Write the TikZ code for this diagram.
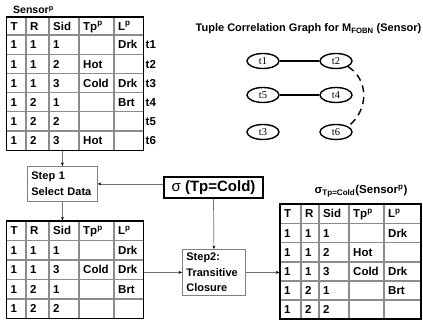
\documentclass[tikz,border=0pt]{standalone}
\usepackage{fontspec}
\setmainfont{Liberation Sans}
\newfontfamily\seriffont{Liberation Serif}
\usetikzlibrary{arrows.meta,fit,shapes.geometric}
\newcommand\sps{\textsuperscript{p}}
\newcommand\tcell[3]{\if\relax\detokenize{#3}\relax\else\node[cell] (#1) at #2 {#3};\fi}
\newcommand\trow[7]{\tcell{#1a}{(\xa,#2)}{#3}\tcell{#1b}{(\xb,#2)}{#4}\tcell{#1c}{(\xc,#2)}{#5}\tcell{#1d}{(\xd,#2)}{#6}\tcell{#1e}{(\xe,#2)}{#7}}
\newcommand\setcols[5]{\def\xa{#1}\def\xb{#2}\def\xc{#3}\def\xd{#4}\def\xe{#5}}
\begin{document}
\begin{tikzpicture}[x=1pt,y=-1pt,
  lbl/.style={font=\bfseries\fontsize{11.5}{13}\selectfont, inner sep=0},
  cell/.style={lbl, anchor=base west},
  gridline/.style={draw=black!45, line width=1.3pt},
  frame/.style={draw=black, line width=1.2pt, inner sep=0},
  stepbox/.style={draw=black!50, line width=0.8pt, align=left, font=\bfseries\fontsize{11}{15.5}\selectfont, inner xsep=4pt, inner ysep=0pt, anchor=north west},
  flow/.style={draw=black!55, line width=0.7pt, -{Stealth[length=3.5pt,width=3pt,black]}},
  tup/.style={ellipse, draw, line width=1.4pt, minimum width=32pt, minimum height=15pt, inner sep=0, font=\seriffont\fontsize{10.5}{12}\selectfont},
  link/.style={line width=1.4pt},
]
\useasboundingbox (0,0) rectangle (423,328);

% ---------- Table A (Sensor^p) ----------
\node[lbl, font=\bfseries\fontsize{10.5}{12}\selectfont, anchor=base west] (titleA) at (13,14) {Sensor\sps};
\foreach \x in {26,49,79,114} \draw[gridline] (\x,17) -- (\x,150.5);
\foreach \y in {35,54.5,73.5,92.5,111.5,131} \draw[gridline] (6.5,\y) -- (143.5,\y);
\node[frame, fit={(6.5,17) (143.5,150.5)}] (tabA) {};
\setcols{10.5}{30}{53}{83}{118}
\trow{Ah}{30.1}{T}{R}{Sid}{Tp\sps}{L\sps}
\trow{A1}{48.85}{1}{1}{1}{}{Drk}
\trow{A2}{68.1}{1}{1}{2}{Hot}{}
\trow{A3}{87.1}{1}{1}{3}{Cold}{Drk}
\trow{A4}{106.1}{1}{2}{1}{}{Brt}
\trow{A5}{125.35}{1}{2}{2}{}{}
\trow{A6}{144.85}{1}{2}{3}{Hot}{}
\node[cell] (rl1) at (145.5,48.85) {t1};
\node[cell] (rl2) at (145.5,68.1) {t2};
\node[cell] (rl3) at (145.5,87.1) {t3};
\node[cell] (rl4) at (145.5,106.1) {t4};
\node[cell] (rl5) at (145.5,125.35) {t5};
\node[cell] (rl6) at (145.5,144.85) {t6};

% ---------- Table B ----------
\foreach \x in {26,49,79,114} \draw[gridline] (\x,221) -- (\x,318.5);
\foreach \y in {240.5,260,279.5,299} \draw[gridline] (6.5,\y) -- (143.5,\y);
\node[frame, fit={(6.5,221) (143.5,318.5)}] (tabB) {};
\trow{Bh}{234.85}{T}{R}{Sid}{Tp\sps}{L\sps}
\trow{B1}{254.35}{1}{1}{1}{}{Drk}
\trow{B2}{273.85}{1}{1}{3}{Cold}{Drk}
\trow{B3}{293.35}{1}{2}{1}{}{Brt}
\trow{B4}{312.85}{1}{2}{2}{}{}

% ---------- Table C ----------
\node[lbl, anchor=base] (titleC) at (361,194) {σ\textsubscript{Tp=Cold}(Sensor\sps)};
\foreach \x in {301,319,349,384} \draw[gridline] (\x,204) -- (\x,319);
\foreach \y in {223.5,242.5,262,281,300} \draw[gridline] (280,\y) -- (421,\y);
\node[frame, fit={(280,204) (421,319)}] (tabC) {};
\setcols{284}{305}{323}{353}{388}
\trow{Ch}{217.85}{T}{R}{Sid}{Tp\sps}{L\sps}
\trow{C1}{237.1}{1}{1}{1}{}{Drk}
\trow{C2}{256.35}{1}{1}{2}{Hot}{}
\trow{C3}{275.6}{1}{1}{3}{Cold}{Drk}
\trow{C4}{294.6}{1}{2}{1}{}{Brt}
\trow{C5}{313.6}{1}{2}{2}{}{}

% ---------- Steps ----------
\node[stepbox, text width=62pt, minimum height=35pt] (step1) at (27,166) {Step 1\\Select Data};
\node[stepbox, text width=55pt, minimum height=46pt] (step2) at (182,249) {Step2:\\Transitive\\Closure};
\node[draw, line width=1.5pt, minimum width=99pt, minimum height=21pt, inner sep=0,
      font=\bfseries\fontsize{15}{17}\selectfont] (sig) at (213.5,187.5) {{\mdseries σ} (Tp=Cold)};

\draw[flow] (step1.north |- tabA.south) -- (step1.north);
\draw[flow] (step1.south) -- (step1.south |- tabB.north);
\draw[flow] (sig.west |- step1.east) -- (step1.east);
\draw[flow] (sig.south) -- (step2.north);
\draw[flow] (tabB.east |- step2.west) -- (step2.west);
\draw[flow] (step2.east) -- (step2.east -| tabC.west);

% ---------- Graph ----------
\node[lbl, font=\bfseries\fontsize{11}{13}\selectfont] (gtitle) at (308.5,29) {Tuple Correlation Graph for M\textsubscript{FOBN} (Sensor)};
\node[tup] (t1) at (263,61) {t1};
\node[tup] (t2) at (336,61) {t2};
\node[tup] (t5) at (263,95) {t5};
\node[tup] (t4) at (336,95) {t4};
\node[tup] (t3) at (263,132) {t3};
\node[tup] (t6) at (336,132) {t6};
\draw[link] (t1) -- (t2);
\draw[link] (t5) -- (t4);
\draw[link, dash pattern=on 7pt off 5pt] (t2.-25) .. controls (369,80) and (369,110) .. (t6.25);
\end{tikzpicture}
\end{document}
